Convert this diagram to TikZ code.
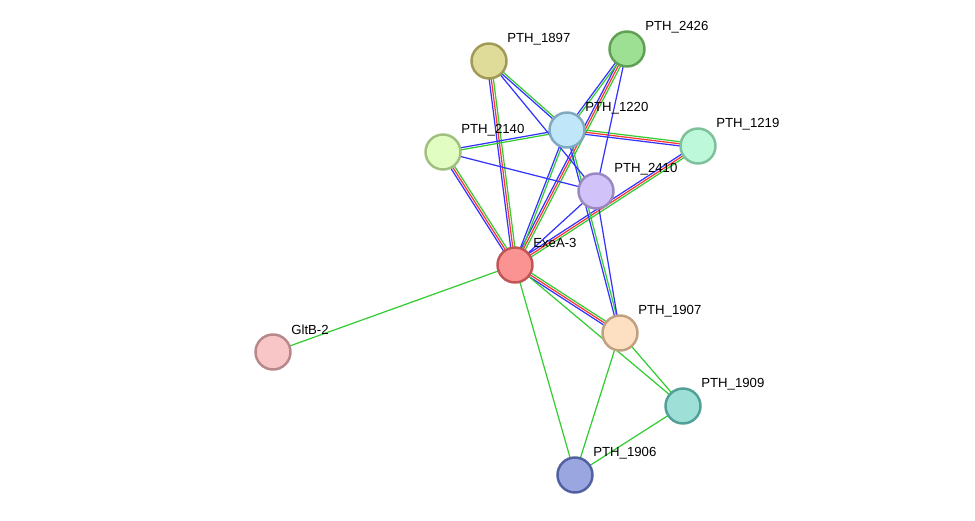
\documentclass[tikz,border=0pt]{standalone}
\usepackage{fontspec}
\setmainfont{Liberation Sans}
\usetikzlibrary{calc}
\pgfdeclarelayer{bg}
\pgfsetlayers{bg,main}
\definecolor{sblue}{HTML}{3333FF}
\definecolor{sred}{HTML}{FF3333}
\definecolor{sgreen}{HTML}{33CC33}
% one strand of an edge bundle, shifted sideways by #3
\newcommand{\strand}[4]{%
  \draw[#4, line width=0.7pt] ($(#1)!#3!90:(#2)$) -- ($(#2)!#3!-90:(#1)$);}
\begin{document}
\begin{tikzpicture}[x=0.02cm, y=-0.02cm]
        % ================= 样式 =================
        \tikzset{
            % 蛋白节点
            prot/.style={circle, line width=1.4pt, minimum size=0.7cm, inner sep=0pt},
            % 名称标签
            lbl/.style={anchor=west, font=\fontsize{7.5}{8}\selectfont, inner sep=0pt}
        }
        \useasboundingbox (0,0) rectangle (975,521);

        % ================= 节点 =================
        \node[prot, fill={rgb,255:red,223;green,219;blue,152}, draw={rgb,255:red,160;green,154;blue,85}] (p1897) at (489,61) {};
        \node[prot, fill={rgb,255:red,158;green,224;blue,147}, draw={rgb,255:red,95;green,160;blue,85}] (p2426) at (627,49) {};
        \node[prot, fill={rgb,255:red,192;green,230;blue,250}, draw={rgb,255:red,128;green,168;blue,191}] (p1220) at (567,130) {};
        \node[prot, fill={rgb,255:red,189;green,248;blue,218}, draw={rgb,255:red,125;green,192;blue,154}] (p1219) at (698,146) {};
        \node[prot, fill={rgb,255:red,226;green,253;blue,194}, draw={rgb,255:red,160;green,192;blue,128}] (p2140) at (443,152) {};
        \node[prot, fill={rgb,255:red,210;green,194;blue,250}, draw={rgb,255:red,154;green,136;blue,192}] (p2410) at (596,191) {};
        \node[prot, fill={rgb,255:red,251;green,147;blue,147}, draw={rgb,255:red,192;green,85;blue,85}] (exea) at (515,265) {};
        \node[prot, fill={rgb,255:red,253;green,224;blue,194}, draw={rgb,255:red,192;green,160;blue,128}] (p1907) at (620,333) {};
        \node[prot, fill={rgb,255:red,248;green,198;blue,198}, draw={rgb,255:red,184;green,136;blue,136}] (gltb) at (273,352) {};
        \node[prot, fill={rgb,255:red,158;green,224;blue,216}, draw={rgb,255:red,80;green,160;blue,152}] (p1909) at (683,406) {};
        \node[prot, fill={rgb,255:red,154;green,166;blue,224}, draw={rgb,255:red,80;green,96;blue,160}] (p1906) at (575,475) {};

        % 标签
        \node[lbl] (t1897) at ($(p1897)+(18,-22)$) {PTH\_1897};
        \node[lbl] (t2426) at ($(p2426)+(18,-22)$) {PTH\_2426};
        \node[lbl] (t1220) at ($(p1220)+(18,-22)$) {PTH\_1220};
        \node[lbl] (t1219) at ($(p1219)+(18,-22)$) {PTH\_1219};
        \node[lbl] (t2140) at ($(p2140)+(18,-22)$) {PTH\_2140};
        \node[lbl] (t2410) at ($(p2410)+(18,-22)$) {PTH\_2410};
        \node[lbl] (texea) at ($(exea)+(18,-22)$) {ExeA-3};
        \node[lbl] (t1907) at ($(p1907)+(18,-22)$) {PTH\_1907};
        \node[lbl] (tgltb) at ($(gltb)+(18,-22)$) {GltB-2};
        \node[lbl] (t1909) at ($(p1909)+(18,-22)$) {PTH\_1909};
        \node[lbl] (t1906) at ($(p1906)+(18,-22)$) {PTH\_1906};

        % ================= 连线 =================
        \begin{pgfonlayer}{bg}
            % 三色边
            \foreach \a/\b in {p1897/exea, p2426/exea, p2140/exea, p1219/exea, exea/p1907, p1220/p1219}
                \foreach \c/\o in {sblue/-1.2pt, sred/0pt, sgreen/1.2pt}
                    {\strand{\a}{\b}{\o}{\c}}
            % 蓝绿边
            \foreach \a/\b in {p1897/p1220, p2426/p1220, p1220/p2140, p1220/exea, p1220/p1907}
                \foreach \c/\o in {sblue/-0.6pt, sgreen/0.6pt}
                    {\strand{\a}{\b}{\o}{\c}}
            % 蓝边
            \foreach \a/\b in {p1897/p2410, p2426/p2410, p2140/p2410, p2410/exea, p2410/p1907}
                \strand{\a}{\b}{0pt}{sblue};
            % 绿边
            \foreach \a/\b in {exea/gltb, exea/p1909, exea/p1906, p1907/p1909, p1907/p1906, p1909/p1906}
                \strand{\a}{\b}{0pt}{sgreen};
        \end{pgfonlayer}
    \end{tikzpicture}
\end{document}
